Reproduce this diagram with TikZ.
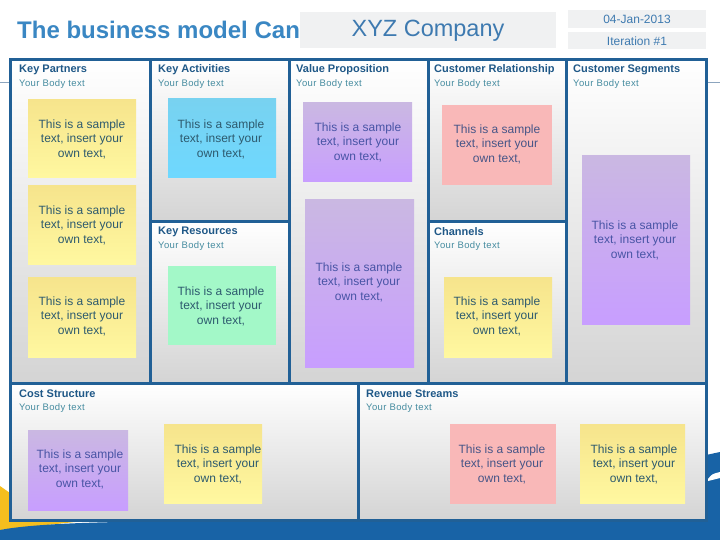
\documentclass[tikz,border=0pt]{standalone}
\usepackage{fontspec}
\setmainfont{Liberation Sans}
\begin{document}
\begin{tikzpicture}[x=1pt,y=-1pt,
  framecol/.style={draw=frameblue,line width=3pt},
  cell/.style={top color=white,bottom color=cellgray,draw=none},
  hdr/.style={anchor=west,inner sep=0pt,text=hdrblue,font=\fontsize{11}{13}\selectfont\bfseries},
  bodyt/.style={anchor=west,inner sep=0pt,text=bodyteal,font=\fontsize{9.5}{11}\selectfont\addfontfeatures{LetterSpace=4}},
  ntext/.style={align=center,inner sep=0pt,font=\fontsize{12}{14.5}\selectfont},
  ynote/.style={top color=yeltop,bottom color=yelbot,draw=none},
  bnote/.style={top color=bluetop,bottom color=bluebot,draw=none},
  gnote/.style={fill=greennote,draw=none},
  pnote/.style={top color=purtop,bottom color=purbot,draw=none},
  knote/.style={fill=pinknote,draw=none},
  greybox/.style={fill=boxgray,draw=none}
]
\definecolor{frameblue}{RGB}{33,96,150}
\definecolor{cellgray}{RGB}{212,212,212}
\definecolor{hdrblue}{RGB}{31,88,135}
\definecolor{bodyteal}{RGB}{70,140,160}
\definecolor{titleblue}{RGB}{58,135,195}
\definecolor{xyzblue}{RGB}{62,122,176}
\definecolor{boxgray}{RGB}{240,241,242}
\definecolor{yeltop}{RGB}{246,228,140}
\definecolor{yelbot}{RGB}{255,248,160}
\definecolor{bluetop}{RGB}{120,210,240}
\definecolor{bluebot}{RGB}{110,216,255}
\definecolor{greennote}{RGB}{163,248,200}
\definecolor{purtop}{RGB}{202,184,226}
\definecolor{purbot}{RGB}{200,158,255}
\definecolor{pinknote}{RGB}{249,184,184}
\definecolor{ntextdark}{RGB}{45,90,110}
\definecolor{ntextpur}{RGB}{72,84,165}
\definecolor{ntextpink}{RGB}{70,85,135}
\definecolor{bandblue}{RGB}{24,99,166}
\definecolor{swoosh}{RGB}{245,190,30}
\definecolor{thinline}{RGB}{140,165,190}

\useasboundingbox (0,0) rectangle (720,540);
\fill[white] (0,0) rectangle (720,540);

% decorative background
\draw[thinline,line width=1pt] (0,83) -- (720,83);
\fill[swoosh] (0,486) .. controls (20,500) and (40,515) .. (75,522) -- (0,530) -- cycle;
\fill[bandblue] (0,530) .. controls (20,526) and (60,523) .. (120,522) -- (706,522) -- (706,455) -- (720,452) -- (720,540) -- (0,540) -- cycle;
\fill[white] (708,479) .. controls (712,474) .. (720,472) -- (720,478) .. controls (714,479) .. (708,481) -- cycle;

% title
\node[anchor=base west,inner sep=0pt,text=titleblue,font=\fontsize{24}{27}\selectfont\bfseries] (title) at (17,39) {The business model Canvas};
\path[greybox] (300,12) rectangle (556,48);
\node[text=xyzblue,font=\fontsize{23.5}{26}\selectfont] (xyz) at (428,31) {XYZ Company};
\path[greybox] (568,10) rectangle (706,28);
\node[text=xyzblue,font=\fontsize{12}{14}\selectfont] (date) at (637,19) {04-Jan-2013};
\path[greybox] (568,32) rectangle (706,49);
\node[text=xyzblue,font=\fontsize{12}{14}\selectfont] (iter) at (637,41) {Iteration \#1};

% cells
\path[cell] (10,60) rectangle (150,383);
\path[cell] (150,60) rectangle (289,222);
\path[cell] (150,222) rectangle (289,383);
\path[cell] (289,60) rectangle (428,383);
\path[cell] (428,60) rectangle (566,222);
\path[cell] (428,222) rectangle (566,383);
\path[cell] (566,60) rectangle (706,383);
\path[cell] (10,383) rectangle (358,520);
\path[cell] (358,383) rectangle (706,520);

% frame lines
\draw[framecol] (10,60) rectangle (706,520);
\draw[framecol] (10,383) -- (706,383);
\draw[framecol] (150,60) -- (150,383);
\draw[framecol] (289,60) -- (289,383);
\draw[framecol] (428,60) -- (428,383);
\draw[framecol] (566,60) -- (566,383);
\draw[framecol] (150,222) -- (289,222);
\draw[framecol] (428,222) -- (566,222);
\draw[framecol] (358,383) -- (358,520);

% headers
\node[hdr] (hkp) at (19,70) {Key Partners};
\node[bodyt] (bkp) at (19,84) {Your Body text};
\node[hdr] (hka) at (158,70) {Key Activities};
\node[bodyt] (bka) at (158,84) {Your Body text};
\node[hdr] (hvp) at (296,70) {Value Proposition};
\node[bodyt] (bvp) at (296,84) {Your Body text};
\node[hdr] (hcr) at (434,70) {Customer Relationship};
\node[bodyt] (bcr) at (434,84) {Your Body text};
\node[hdr] (hcs) at (573,70) {Customer Segments};
\node[bodyt] (bcs) at (573,84) {Your Body text};
\node[hdr] (hkr) at (158,232) {Key Resources};
\node[bodyt] (bkr) at (158,246) {Your Body text};
\node[hdr] (hch) at (434,232) {Channels};
\node[bodyt] (bch) at (434,246) {Your Body text};
\node[hdr] (hco) at (19,394) {Cost Structure};
\node[bodyt] (bco) at (19,408) {Your Body text};
\node[hdr] (hrs) at (366,394) {Revenue Streams};
\node[bodyt] (brs) at (366,408) {Your Body text};

% sticky notes
\path[ynote] (28,100) rectangle (136,178);
\node[ntext,text=ntextdark] (n1) at (82,139) {This is a sample\\text, insert your\\own text,};
\path[ynote] (28,186) rectangle (136,264);
\node[ntext,text=ntextdark] (n2) at (82,225) {This is a sample\\text, insert your\\own text,};
\path[ynote] (28,277) rectangle (136,357);
\node[ntext,text=ntextdark] (n3) at (82,316) {This is a sample\\text, insert your\\own text,};
\path[bnote] (168,99) rectangle (276,178);
\node[ntext,text=ntextdark] (n4) at (221,139) {This is a sample\\text, insert your\\own text,};
\path[gnote] (168,266) rectangle (276,345);
\node[ntext,text=ntextdark] (n5) at (221,306) {This is a sample\\text, insert your\\own text,};
\path[pnote] (303,103) rectangle (412,182);
\node[ntext,text=ntextpur] (n6) at (358,142) {This is a sample\\text, insert your\\own text,};
\path[pnote] (305,200) rectangle (414,367);
\node[ntext,text=ntextpur] (n7) at (359,282) {This is a sample\\text, insert your\\own text,};
\path[knote] (442,105) rectangle (552,185);
\node[ntext,text=ntextpink] (n8) at (497,144) {This is a sample\\text, insert your\\own text,};
\path[ynote] (444,277) rectangle (552,357);
\node[ntext,text=ntextdark] (n9) at (497,316) {This is a sample\\text, insert your\\own text,};
\path[pnote] (582,156) rectangle (690,324);
\node[ntext,text=ntextpur] (n10) at (635,240) {This is a sample\\text, insert your\\own text,};
\path[pnote] (28,430) rectangle (128,510);
\node[ntext,text=ntextpur] (n11) at (80,469) {This is a sample\\text, insert your\\own text,};
\path[ynote] (164,424) rectangle (262,503);
\node[ntext,text=ntextdark] (n12) at (218,464) {This is a sample\\text, insert your\\own text,};
\path[knote] (450,424) rectangle (556,504);
\node[ntext,text=ntextpink] (n13) at (502,464) {This is a sample\\text, insert your\\own text,};
\path[ynote] (580,424) rectangle (685,503);
\node[ntext,text=ntextdark] (n14) at (634,464) {This is a sample\\text, insert your\\own text,};
\end{tikzpicture}
\end{document}
